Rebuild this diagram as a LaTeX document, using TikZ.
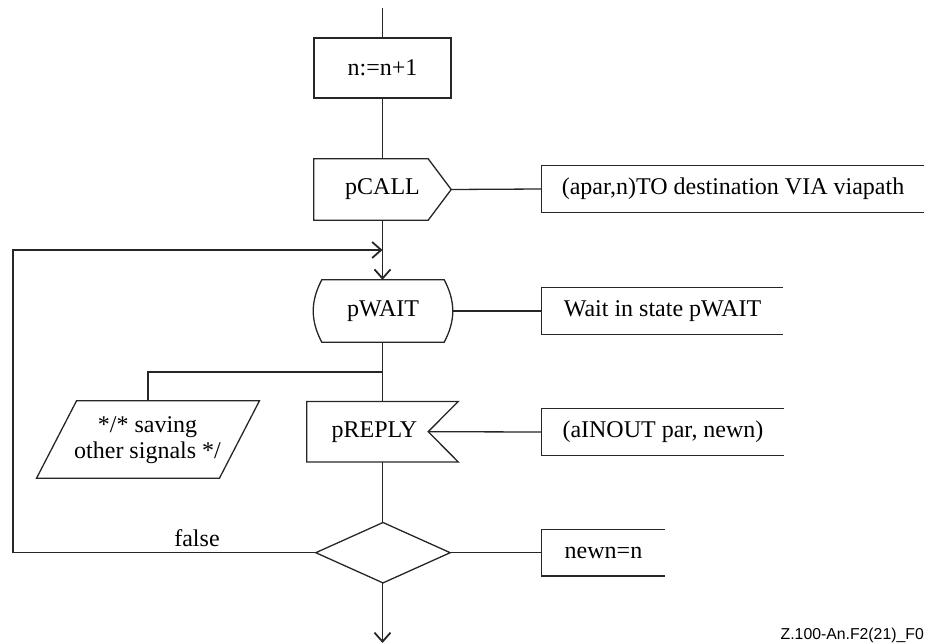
\documentclass[tikz,border=0pt]{standalone}
\usepackage{fontspec}
\setmainfont{Liberation Serif}
\newfontfamily\labelfont{Liberation Sans}
\usetikzlibrary{calc,arrows.meta}
\begin{document}
\begin{tikzpicture}[x=1pt,y=-1pt,
  every node/.style={font=\fontsize{24}{25}\selectfont, inner sep=0pt},
  ln/.style={line width=1.3pt, draw=black!85},
  arr/.style={ln, -{Straight Barb[length=9pt,width=16pt,line width=1.8pt]}},
  stepbox/.style={ln, draw, minimum width=137pt, minimum height=60pt},
  shapebox/.style={minimum height=61pt},
  cmt/.style={minimum height=46pt}
]
\useasboundingbox (0,0) rectangle (926,644);

% nodes
\node[stepbox] (inc) at (382.5,68) {n:=n+1};
\node[shapebox, minimum width=137pt] (call) at (382.5,189.5) {pCALL};
\node[shapebox, minimum width=138pt, minimum height=62pt] (wait) at (383,311) {pWAIT};
\node[shapebox, minimum width=151pt, minimum height=60pt] (reply) at (382.5,431.7) {\hspace*{-16pt}pREPLY};
\node[minimum width=182.5pt, minimum height=77pt] (save) at (148,439.5) {};
\node[anchor=base] (save1) at (147.5,432) {*/* saving};
\node[anchor=base] (save2) at (147.5,458) {other signals */};
\node[minimum width=134pt, minimum height=60pt] (dia) at (383,552.7) {};

\node[cmt, minimum width=382pt] (c1) at (733,189) {(apar,n)TO destination VIA viapath};
\node[cmt, minimum width=241pt] (c2) at (662.5,311) {Wait in state pWAIT};
\node[cmt, minimum width=242pt] (c3) at (663,432) {(aINOUT par, newn)};
\node[cmt, minimum width=123pt] (c4) at (603.5,552.7) {newn=n};

\node (fl) at (197,538) {false};
\node[font=\labelfont\fontsize{15.8}{18}\selectfont, anchor=base east] (lab) at (924,639) {Z.100-An.F2(21)\_F0};

% shapes
\draw[ln] (call.north west) -- ($(call.north east)+(-23,0)$) -- (call.east) -- ($(call.south east)+(-23,0)$) -- (call.south west) -- cycle;
\draw[ln] ($(wait.north west)+(8,0)$) -- ($(wait.north east)+(-8,0)$) to[bend left=28] ($(wait.south east)+(-8,0)$) -- ($(wait.south west)+(8,0)$) to[bend left=28] ($(wait.north west)+(8,0)$) -- cycle;
\coordinate (notch) at ($(reply.east)+(-30,0)$);
\draw[ln] (reply.north west) -- (reply.north east) -- (notch) -- (reply.south east) -- (reply.south west) -- cycle;
\draw[ln] ($(save.north west)+(20,0)$) -- ($(save.north east)+(20,0)$) -- ($(save.south east)+(-20,0)$) -- ($(save.south west)+(-20,0)$) -- cycle;
\draw[ln] (dia.north) -- (dia.east) -- (dia.south) -- (dia.west) -- cycle;
\foreach \c in {c1,c2,c3,c4}
  \draw[ln] (\c.north east) -- (\c.north west) -- (\c.south west) -- (\c.south east);

% connectors
\coordinate (top) at (382.5,8);
\coordinate (join) at (382.5,250);
\coordinate (br) at (382.5,372);
\coordinate (lp) at (13,250);
\coordinate (bot) at (382.5,643);
\draw[ln] (top) -- (inc.north);
\draw[ln] (inc.south) -- (call.north);
\draw[arr] (call.south) -- (wait.north -| call.south);
\draw[ln] (wait.south -| call.south) -- (reply.north);
\draw[ln] (br) -| (save.north);
\draw[ln] (reply.south) -- (dia.north -| reply.south);
\draw[arr] (dia.south -| reply.south) -- (bot);
\draw[arr] (dia.west) -| (lp) -- (join);
\draw[ln] (call.east) -- (c1.west);
\draw[ln] (wait.east) -- (c2.west);
\draw[ln] (notch) -- (c3.west);
\draw[ln] (dia.east) -- (c4.west);
\end{tikzpicture}
\end{document}
